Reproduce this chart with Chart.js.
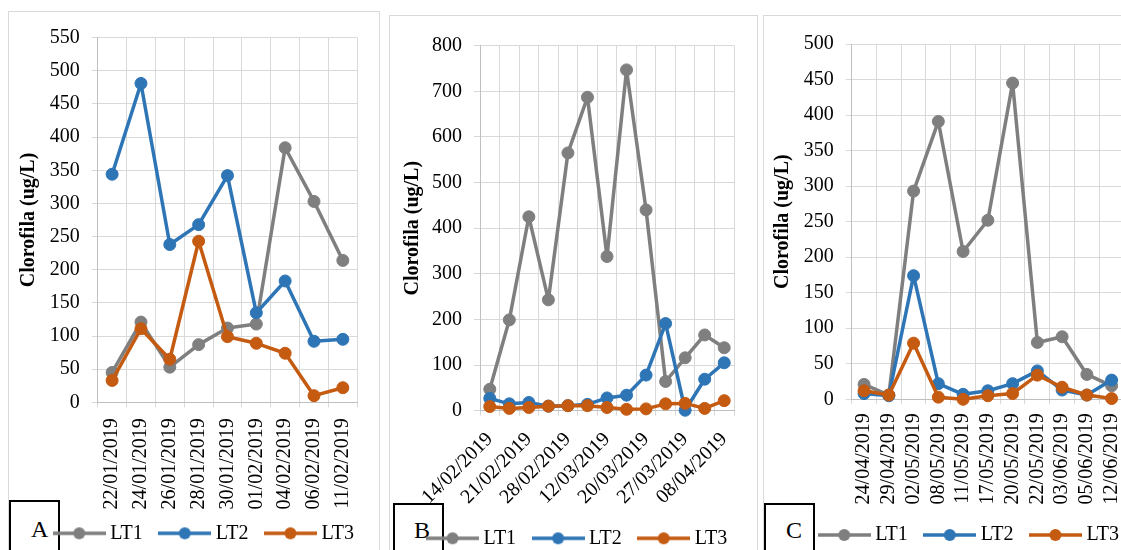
<!DOCTYPE html>
<html><head><meta charset="utf-8">
<script src="https://cdn.jsdelivr.net/npm/chart.js@4.4.1/dist/chart.umd.min.js"></script>
<style>
html,body{margin:0;padding:0;width:1121px;height:550px;overflow:hidden;background:#fff;}
.frame{position:absolute;border:1px solid #d9d9d9;box-sizing:border-box;height:620px;}
.tag{position:absolute;border:2px solid #000;background:#fff;box-sizing:border-box;height:80px;font-family:'Liberation Serif','Times New Roman',serif;font-size:24px;line-height:24px;color:#000;}
.tag span{position:absolute;}
.panel{position:absolute;height:560px;}
.panel canvas{display:block;}
</style></head><body>
<div class="frame" style="left:8px;top:11px;width:372px;"></div>
<div class="frame" style="left:389px;top:15px;width:369px;"></div>
<div class="frame" style="left:763px;top:15px;width:420px;"></div>
<div class="tag" style="left:9px;top:500px;width:51px;"><span style="left:20px;top:14.6px;">A</span></div>
<div class="tag" style="left:393px;top:503px;width:51px;"><span style="left:19px;top:13px;">B</span></div>
<div class="tag" style="left:764px;top:503px;width:51px;"><span style="left:20px;top:13px;">C</span></div>
<div class="panel" style="left:9px;top:12px;width:370px;"><canvas id="cA" width="370" height="560"></canvas></div>
<div class="panel" style="left:390px;top:16px;width:367px;"><canvas id="cB" width="367" height="560"></canvas></div>
<div class="panel" style="left:764px;top:16px;width:400px;"><canvas id="cC" width="400" height="560"></canvas></div>
<script>
// ---- data ----
const SERIES_NAMES = ['LT1', 'LT2', 'LT3'];

const A_DATES = ['22/01/2019','24/01/2019','26/01/2019','28/01/2019','30/01/2019','01/02/2019','04/02/2019','06/02/2019','11/02/2019'];
const A_LT1 = [45, 121, 53, 87, 112, 118, 384, 303, 214];
const A_LT2 = [344, 481, 238, 268, 342, 135, 183, 92, 95];
const A_LT3 = [33, 111, 65, 243, 99, 89, 74, 10, 22];
const A_Y_MAX = 550, A_Y_STEP = 50;

// hidden (skipped) category labels are not readable in the source, left blank
const B_DATES = ['14/02/2019','','21/02/2019','','28/02/2019','','12/03/2019','','20/03/2019','','27/03/2019','','08/04/2019'];
const B_LT1 = [47, 199, 425, 243, 565, 687, 338, 747, 440, 64, 116, 166, 138];
const B_LT2 = [27, 15, 18, 10, 11, 14, 28, 34, 78, 191, 1, 69, 105];
const B_LT3 = [9, 5, 7, 10, 11, 11, 7, 3, 4, 15, 16, 5, 22];
const B_Y_MAX = 800, B_Y_STEP = 100;

const C_DATES = ['24/04/2019','29/04/2019','02/05/2019','08/05/2019','11/05/2019','17/05/2019','20/05/2019','22/05/2019','03/06/2019','05/06/2019','12/06/2019'];
const C_LT1 = [21, 6, 293, 391, 208, 252, 445, 80, 88, 35, 19];
const C_LT2 = [8, 5, 174, 22, 7, 12, 22, 40, 13, 6, 27];
const C_LT3 = [12, 6, 79, 3, 0, 5, 8, 34, 17, 6, 1];
const C_Y_MAX = 500, C_Y_STEP = 50;

const Y_TITLE = 'Clorofila (ug/L)';

// ---- styles ----
const COLORS = ['#7f7f7f', '#2e75b6', '#c55a11'];
const GRID = '#d9d9d9', AXIS = '#bfbfbf';
const FAMILY = "'Liberation Serif', 'Times New Roman', serif";
const LEGEND_PAD = 21;

function legendImg(color) {
  const c = document.createElement('canvas');
  c.width = 53; c.height = 16;
  const g = c.getContext('2d');
  g.strokeStyle = color; g.lineWidth = 3.5;
  g.beginPath(); g.moveTo(0, 8); g.lineTo(53, 8); g.stroke();
  g.fillStyle = color;
  g.beginPath(); g.arc(26.5, 8, 6, 0, Math.PI * 2); g.fill();
  return c;
}
const LEGEND_IMGS = COLORS.map(legendImg);

function build(id, labels, series, yMax, yStep, geo) {
  const font = { family: FAMILY, size: 20 };
  return new Chart(document.getElementById(id), {
    type: 'line',
    data: {
      labels: labels,
      datasets: series.map((v, i) => ({
        label: SERIES_NAMES[i], data: v,
        borderColor: COLORS[i], backgroundColor: COLORS[i],
        pointBackgroundColor: COLORS[i], pointBorderColor: COLORS[i],
        borderWidth: 3.5, pointRadius: 6, pointBorderWidth: 1,
        borderJoinStyle: 'round', borderCapStyle: 'round',
        tension: 0, clip: false, order: 3 - i
      }))
    },
    options: {
      responsive: false, animation: false,
      layout: { padding: { top: geo.padTop, left: 0, right: geo.padRight, bottom: 0 } },
      plugins: {
        tooltip: { enabled: false },
        legend: {
          position: 'bottom',
          labels: {
            font: font, color: '#000', padding: LEGEND_PAD,
            usePointStyle: true, pointStyleWidth: 42,
            sort: (a, b) => a.datasetIndex - b.datasetIndex,
            generateLabels: (chart) => Chart.defaults.plugins.legend.labels.generateLabels(chart)
              .map(l => Object.assign(l, { pointStyle: LEGEND_IMGS[l.datasetIndex] }))
          }
        }
      },
      scales: {
        x: {
          offset: true,
          grid: { offset: true, color: GRID, tickLength: 5 },
          border: { color: AXIS },
          ticks: { autoSkip: false, minRotation: geo.rot, maxRotation: geo.rot, padding: geo.xPad, font: font, color: '#000' },
          afterFit: s => { s.height = 560 - 51 - geo.plotBottom; }
        },
        y: {
          min: 0, max: yMax,
          ticks: { stepSize: yStep, padding: 12, font: font, color: '#000' },
          grid: { color: GRID, tickLength: 6 },
          border: { color: AXIS },
          title: { display: true, text: Y_TITLE, color: '#000', font: { family: FAMILY, size: 20, weight: 'bold' }, padding: { top: geo.titlePad, bottom: 0 } },
          afterFit: s => { s.width = geo.yWidth; }
        }
      }
    },
    plugins: [{
      id: 'legendPlace',
      afterLayout(chart) {
        const lg = chart.legend;
        const h = lg.bottom - lg.top;
        lg.left += geo.legendDx; lg.right += geo.legendDx;
        lg.top = geo.legendY - LEGEND_PAD - 10; lg.bottom = lg.top + h;
      }
    }]
  });
}

build('cA', A_DATES, [A_LT1, A_LT2, A_LT3], A_Y_MAX, A_Y_STEP,
  { padTop: 25.7, padRight: 21, plotBottom: 390.3, yWidth: 88.7, titlePad: 8, xPad: 11, rot: 90, legendDx: 22.6, legendY: 521.3 });
build('cB', B_DATES, [B_LT1, B_LT2, B_LT3], B_Y_MAX, B_Y_STEP,
  { padTop: 29.7, padRight: 23, plotBottom: 394.7, yWidth: 90, titlePad: 11.3, xPad: 12, rot: 45, legendDx: 17.4, legendY: 522.3 });
build('cC', C_DATES, [C_LT1, C_LT2, C_LT3], C_Y_MAX, C_Y_STEP,
  { padTop: 28, padRight: 40, plotBottom: 383.3, yWidth: 87.7, titlePad: 6.5, xPad: 9, rot: 90, legendDx: 27.1, legendY: 519 });
</script>
</body></html>
